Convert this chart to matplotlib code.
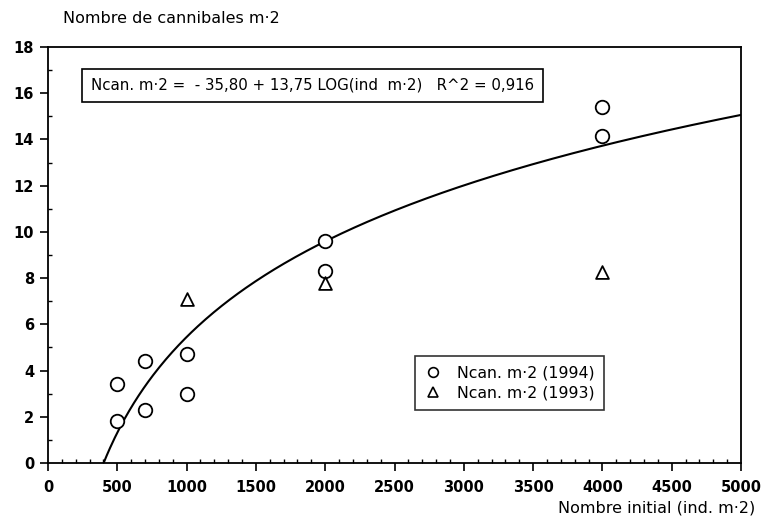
import numpy as np
import matplotlib
matplotlib.use("Agg")
import matplotlib.pyplot as plt
from matplotlib.ticker import MultipleLocator
from matplotlib.lines import Line2D

# Observed cannibal counts per m2 against initial density
x_1994 = [500, 500, 700, 700, 1000, 1000, 2000, 2000, 4000, 4000]
y_1994 = [3.4, 1.8, 4.4, 2.3, 4.7, 3.0, 9.6, 8.3, 15.4, 14.15]
x_1993 = [1000, 2000, 4000]
y_1993 = [7.1, 7.8, 8.25]

# Logarithmic fit: Ncan = a + b * log10(density)
fit_a = -35.80
fit_b = 13.75
fit_r2 = 0.916

plt.rcParams['font.family'] = ['DejaVu Sans']

fig = plt.figure(figsize=(7.65, 5.32), dpi=100)
ax = fig.add_axes([0.0627, 0.1297, 0.906, 0.782])

xs = np.linspace(10 ** (-fit_a / fit_b), 5000, 400)
ax.plot(xs, fit_a + fit_b * np.log10(xs), color='black', lw=1.5)

ax.scatter(x_1994, y_1994, s=95, facecolors='white', edgecolors='black',
           linewidths=1.3, marker='o', zorder=3)
ax.scatter(x_1993, y_1993, s=85, facecolors='white', edgecolors='black',
           linewidths=1.3, marker='^', zorder=3)

ax.set_xlim(0, 5000)
ax.set_ylim(0, 18)
ax.xaxis.set_major_locator(MultipleLocator(500))
ax.xaxis.set_minor_locator(MultipleLocator(100))
ax.yaxis.set_major_locator(MultipleLocator(2))
ax.yaxis.set_minor_locator(MultipleLocator(1))
ax.tick_params(which='major', direction='out', length=6, width=1.2,
               labelsize=10.5, pad=4)
ax.tick_params(axis='x', which='major', pad=6)
ax.tick_params(which='minor', direction='in', length=3, width=1)
for sp in ax.spines.values():
    sp.set_linewidth(1.3)
for lab in ax.get_xticklabels() + ax.get_yticklabels():
    lab.set_fontweight('bold')

fig.text(0.082, 0.965, 'Nombre de cannibales m·2', fontsize=11.5,
         ha='left', va='center')
fig.text(0.987, 0.045, 'Nombre initial (ind. m·2)', fontsize=11.5,
         ha='right', va='center')

ax.text(0.062, 0.908,
        'Ncan. m·2 =  - 35,80 + 13,75 LOG(ind  m·2)   R^2 = 0,916',
        transform=ax.transAxes, fontsize=10.8, ha='left', va='center',
        bbox=dict(boxstyle='square,pad=0.6', facecolor='white',
                  edgecolor='black', linewidth=1.2))

handles = [
    Line2D([], [], ls='none', marker='o', mfc='white', mec='black',
           mew=1.2, ms=7, label='Ncan. m·2 (1994)'),
    Line2D([], [], ls='none', marker='^', mfc='white', mec='black',
           mew=1.2, ms=7, label='Ncan. m·2 (1993)'),
]
leg = ax.legend(handles=handles, loc='upper left',
                bbox_to_anchor=(0.529, 0.258), frameon=True, fancybox=False,
                edgecolor='black', fontsize=11.3, handletextpad=0.9,
                borderpad=0.6, labelspacing=0.35, handlelength=1.2,
                borderaxespad=0)
leg.get_frame().set_linewidth(1.2)

fig.savefig('out.png', dpi=100)
